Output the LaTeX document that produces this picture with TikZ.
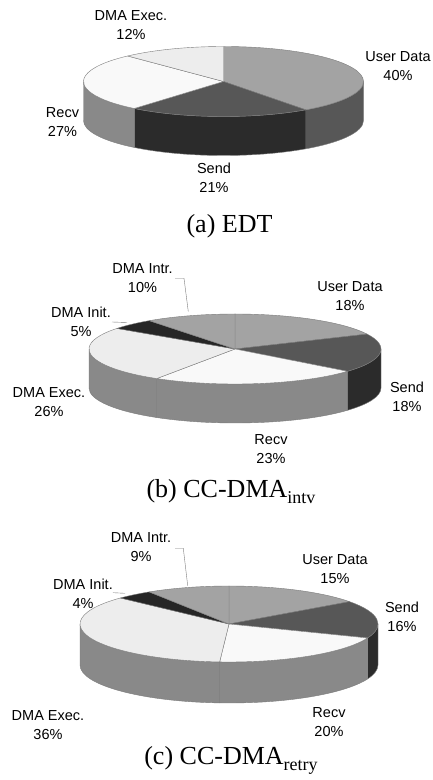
\documentclass[tikz,border=0pt]{standalone}
\usepackage{fontspec}
\setmainfont{Liberation Serif}
\newfontfamily\lblfont{Liberation Sans}
\definecolor{udtop}{HTML}{A3A3A3}
\definecolor{udside}{HTML}{575757}
\definecolor{sendtop}{HTML}{575757}
\definecolor{sendside}{HTML}{2B2B2B}
\definecolor{recvtop}{HTML}{F9F9F9}
\definecolor{recvside}{HTML}{898989}
\definecolor{exectop}{HTML}{EDEDED}
\definecolor{execside}{HTML}{898989}
\definecolor{inittop}{HTML}{262626}
\definecolor{intrtop}{HTML}{A3A3A3}
\definecolor{edge}{HTML}{7C7C7C}
\newcommand{\slicetop}[3]{%
  \filldraw[piece,fill=#3] (0,0) -- (#1:\prx\space and \pry) arc[start angle=#1,end angle=#2,x radius=\prx,y radius=\pry] -- cycle;}
\newcommand{\sliceside}[3]{%
  \filldraw[piece,fill=#3] (#1:\prx\space and \pry) arc[start angle=#1,end angle=#2,x radius=\prx,y radius=\pry] -- ++(0,-\ph) arc[start angle=#2,end angle=#1,x radius=\prx,y radius=\pry] -- cycle;}
\begin{document}
\begin{tikzpicture}[x=1pt,y=1pt,
  piece/.style={draw=edge,line width=0.4pt,line join=round},
  lbl/.style={font=\lblfont\fontsize{14.5}{19}\selectfont,align=center,inner sep=0pt},
  captext/.style={font=\fontsize{26}{28}\selectfont,inner sep=0pt,anchor=base},
  leader/.style={draw=edge,line width=0.4pt}]
\useasboundingbox (0,0) rectangle (433,780);
\fill[white] (0,0) rectangle (433,780);

% ---------------- (a) EDT ----------------
\begin{scope}[shift={(223.5,698.5)}]
\def\prx{140}\def\pry{35}\def\ph{39}
\sliceside{0}{-54}{udside}
\sliceside{-54}{-129.6}{sendside}
\sliceside{-129.6}{-180}{recvside}
\slicetop{90}{-54}{udtop}
\slicetop{-54}{-129.6}{sendtop}
\slicetop{-129.6}{-226.8}{recvtop}
\slicetop{-226.8}{-270}{exectop}
\end{scope}
\node[lbl] (aexec) at (131,755) {DMA Exec.\\12\%};
\node[lbl] (aud) at (398,714) {User Data\\40\%};
\node[lbl] (arecv) at (62.5,657.5) {Recv\\27\%};
\node[lbl] (asend) at (214,602) {Send\\21\%};
\node[captext] (capa) at (229.5,547.5) {(a) EDT};

% ---------------- (b) CC-DMA intv ----------------
\begin{scope}[shift={(235,431)}]
\def\prx{146}\def\pry{35}\def\ph{39}
\sliceside{0}{-39.6}{sendside}
\sliceside{-39.6}{-122.4}{recvside}
\sliceside{-122.4}{-180}{execside}
\slicetop{90}{25.2}{udtop}
\slicetop{25.2}{-39.6}{sendtop}
\slicetop{-39.6}{-122.4}{recvtop}
\slicetop{-122.4}{-216}{exectop}
\slicetop{-216}{-234}{inittop}
\slicetop{-234}{-270}{intrtop}
\end{scope}
\node[lbl] (bintr) at (142.5,501.5) {DMA Intr.\\10\%};
\node[lbl] (bud) at (350,483.5) {User Data\\18\%};
\node[lbl] (binit) at (81,458.5) {DMA Init.\\5\%};
\node[lbl] (bexec) at (49,377.5) {DMA Exec.\\26\%};
\node[lbl] (bsend) at (407,383.5) {Send\\18\%};
\node[lbl] (brecv) at (271,330.5) {Recv\\23\%};
\coordinate (bintrA) at (175,501.7);
\coordinate (bintrB) at (184,501.7);
\coordinate (bintrC) at (188.3,468.3);
\draw[leader] (bintrA) -- (bintrB) -- (bintrC);
\coordinate (binitA) at (112,458);
\coordinate (binitB) at (127,457.5);
\draw[leader] (binitA) -- (binitB);
\node[captext] (capb) at (231,282) {(b) CC-DMA\raisebox{-6pt}{\fontsize{18}{18}\selectfont intv}};

% ---------------- (c) CC-DMA retry ----------------
\begin{scope}[shift={(229,156)}]
\def\prx{149}\def\pry{38}\def\ph{41}
\sliceside{0}{-21.6}{sendside}
\sliceside{-21.6}{-93.6}{recvside}
\sliceside{-93.6}{-180}{execside}
\slicetop{90}{36}{udtop}
\slicetop{36}{-21.6}{sendtop}
\slicetop{-21.6}{-93.6}{recvtop}
\slicetop{-93.6}{-223.2}{exectop}
\slicetop{-223.2}{-237.6}{inittop}
\slicetop{-237.6}{-270}{intrtop}
\end{scope}
\node[lbl] (cintr) at (141,232.5) {DMA Intr.\\9\%};
\node[lbl] (cud) at (335,210.5) {User Data\\15\%};
\node[lbl] (csend) at (402,163) {Send\\16\%};
\node[lbl] (cinit) at (83,186) {DMA Init.\\4\%};
\node[lbl] (cexec) at (48,54.5) {DMA Exec.\\36\%};
\node[lbl] (crecv) at (329,58) {Recv\\20\%};
\coordinate (cintrA) at (175,231.7);
\coordinate (cintrB) at (183.3,231.7);
\coordinate (cintrC) at (187.7,194.3);
\draw[leader] (cintrA) -- (cintrB) -- (cintrC);
\coordinate (cinitA) at (113,187.3);
\coordinate (cinitB) at (125,186.7);
\draw[leader] (cinitA) -- (cinitB);
\node[captext] (capc) at (231,16) {(c) CC-DMA\raisebox{-6pt}{\fontsize{18}{18}\selectfont retry}};
\end{tikzpicture}
\end{document}
